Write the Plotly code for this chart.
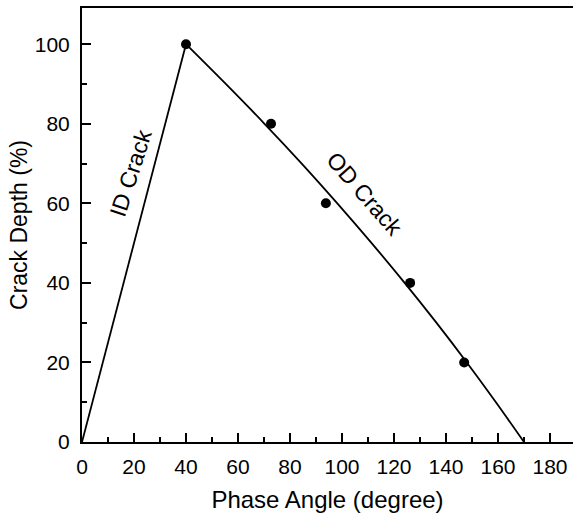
import plotly.graph_objects as go

# Measured points (phase angle in degrees, crack depth in %)
point_angle = [40, 72.7, 93.8, 126.2, 147.0]
point_depth = [100, 80, 60, 40, 20]

# ID crack calibration line
id_angle = [0, 40]
id_depth = [0, 100]

# OD crack calibration curve
od_depth = [100, 90, 80, 70, 60, 50, 40, 30, 20, 10, 0]
od_angle = [40, 55.3, 70.2, 84.5, 98.2, 111.4, 124.1, 136.3, 148.0, 159.2, 170.0]

x_ticks = [0, 20, 40, 60, 80, 100, 120, 140, 160, 180]
y_ticks = [0, 20, 40, 60, 80, 100]

FONT = "Liberation Sans, Arial, sans-serif"

fig = go.Figure()
fig.add_trace(go.Scatter(x=id_angle, y=id_depth, mode="lines",
                         line=dict(color="black", width=1.8), showlegend=False))
fig.add_trace(go.Scatter(x=od_angle, y=od_depth, mode="lines",
                         line=dict(color="black", width=1.8, shape="spline"), showlegend=False))
fig.add_trace(go.Scatter(x=point_angle, y=point_depth, mode="markers",
                         marker=dict(color="black", size=10), showlegend=False, cliponaxis=False))

fig.add_annotation(x=18.8, y=67.6, text="ID Crack", showarrow=False, textangle=-72,
                   font=dict(family=FONT, size=23, color="black"))
fig.add_annotation(x=108.8, y=62.4, text="OD Crack", showarrow=False, textangle=49,
                   font=dict(family=FONT, size=23, color="black"))

fig.update_xaxes(range=[0, 188.85], tickvals=x_ticks, ticks="inside", ticklen=9, tickwidth=1.5,
                 tickcolor="black", showline=True, linecolor="black", linewidth=2, mirror=True,
                 showgrid=False, zeroline=False, automargin=False,
                 minor=dict(dtick=10, ticks="inside", ticklen=5, tickwidth=1.5, tickcolor="black", showgrid=False),
                 tickfont=dict(family=FONT, size=21, color="black"), ticklabelstandoff=5,
                 title=dict(text="Phase Angle (degree)", font=dict(family=FONT, size=24, color="black"), standoff=14))
fig.update_yaxes(range=[0, 109.1], tickvals=y_ticks, ticks="inside", ticklen=9, tickwidth=1.5,
                 tickcolor="black", showline=True, linecolor="black", linewidth=2,
                 showgrid=False, zeroline=False, automargin=False,
                 minor=dict(dtick=10, ticks="inside", ticklen=5, tickwidth=1.5, tickcolor="black", showgrid=False),
                 tickfont=dict(family=FONT, size=21, color="black"), ticklabelstandoff=6,
                 title=dict(text="Crack Depth (%)", font=dict(family=FONT, size=23, color="black"), standoff=1))

fig.update_layout(width=573, height=514, margin=dict(l=82, r=0, t=8, b=72),
                  plot_bgcolor="white", paper_bgcolor="white")

fig.write_html("out.html", config={"displayModeBar": False},
               post_script="document.body.style.margin='0';document.body.style.overflow='hidden';")
